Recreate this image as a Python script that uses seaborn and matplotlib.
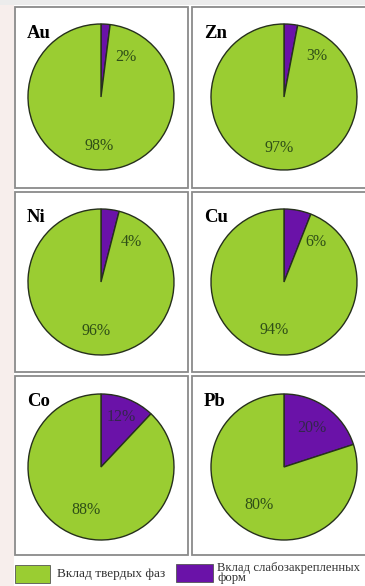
import matplotlib
matplotlib.use("Agg")
import matplotlib.pyplot as plt
from matplotlib.patches import Rectangle
import seaborn as sns

# Доля форм нахождения металлов, %
elements = ["Au", "Zn", "Ni", "Cu", "Co", "Pb"]
loose_share = [2, 3, 4, 6, 12, 20]       # вклад слабозакрепленных форм
solid_share = [98, 97, 96, 94, 88, 80]   # вклад твердых фаз
legend_labels = ["Вклад твердых фаз", "Вклад слабозакрепленных\nформ"]

sns.set_theme(style="white")
plt.rcParams["font.family"] = ["Liberation Serif", "DejaVu Serif"]

GREEN = "#9acd32"
PURPLE = "#6a12a8"
EDGE = "#26301c"
FRAME = "#8a8a8a"
TXT_GREEN = "#2f4f17"
TXT_PURPLE = "#33264d"

W, H = 365, 586
fig = plt.figure(figsize=(W / 100, H / 100), dpi=100)
fig.patch.set_facecolor("white")


def fig_rect(x, y, w, h):
    """Pixel box (top-left origin) -> figure fraction rect."""
    return [x / W, 1 - (y + h) / H, w / W, h / H]


# page background strips
fig.add_artist(Rectangle((0, 0), 14 / W, 1, transform=fig.transFigure,
                         facecolor="#f7eeec", edgecolor="none", zorder=0))
fig.add_artist(Rectangle((0, 1 - 5 / H), 1, 5 / H, transform=fig.transFigure,
                         facecolor="#ececec", edgecolor="none", zorder=0))

# panel frames (px) and pie centres (px)
cols = [(15, 173, 101), (192, 180, 284)]
rows = [(7, 181, 97), (192, 180, 282), (376, 179, 467)]
R = 73.0

# label offsets from the centre, in px (x right, y up)
small_off = [(25, 40), (33, 41), (30, 40), (32, 40), (20, 50), (28, 39)]
big_off = [(-2, -49), (-5, -51), (-5, -49), (-10, -48), (-15, -43), (-25, -38)]

for i, el in enumerate(elements):
    left, pw, cx = cols[i % 2]
    top, ph, cy = rows[i // 2]

    # panel frame
    x0, y0, w0, h0 = fig_rect(left, top, pw, ph)
    fig.add_artist(Rectangle((x0, y0), w0, h0, transform=fig.transFigure,
                             facecolor="white", edgecolor=FRAME,
                             linewidth=1.3, zorder=1))

    ax = fig.add_axes([x0, y0, w0, h0])
    ax.set_zorder(2)
    ax.patch.set_alpha(0)
    ax.pie([loose_share[i], solid_share[i]], colors=[PURPLE, GREEN],
           startangle=90, counterclock=False, radius=1.0,
           wedgeprops=dict(edgecolor=EDGE, linewidth=1.0))
    ax.set_xlim(-(cx - left) / R, (left + pw - cx) / R)
    ax.set_ylim(-(top + ph - cy) / R, (cy - top) / R)
    ax.set_aspect("auto")
    ax.axis("off")

    sx, sy = small_off[i]
    small_col = TXT_PURPLE if loose_share[i] >= 10 else TXT_GREEN
    ax.text(sx / R, sy / R, f"{loose_share[i]}%", ha="center", va="center",
            fontsize=11.5, color=small_col)
    bx, by = big_off[i]
    ax.text(bx / R, by / R, f"{solid_share[i]}%", ha="center", va="center",
            fontsize=11.5, color=TXT_GREEN)
    ax.text(12 / pw, 1 - 26 / ph, el, transform=ax.transAxes, ha="left",
            va="center", fontsize=13.5, fontweight="bold", color="black")

# legend
fig.add_artist(Rectangle((15 / W, 1 - 583 / H), 35 / W, 18 / H,
                         transform=fig.transFigure, facecolor=GREEN,
                         edgecolor="#555555", linewidth=0.6))
fig.text(57 / W, 1 - 574 / H, legend_labels[0], ha="left", va="center",
         fontsize=9.5, color="#333333")
fig.add_artist(Rectangle((176 / W, 1 - 582 / H), 37 / W, 18 / H,
                         transform=fig.transFigure, facecolor=PURPLE,
                         edgecolor="#555555", linewidth=0.6))
fig.text(217 / W, 1 - 573 / H, legend_labels[1], ha="left", va="center",
         fontsize=9.2, color="#333333", linespacing=0.8)

fig.savefig("out.png", dpi=100, facecolor=fig.get_facecolor())
